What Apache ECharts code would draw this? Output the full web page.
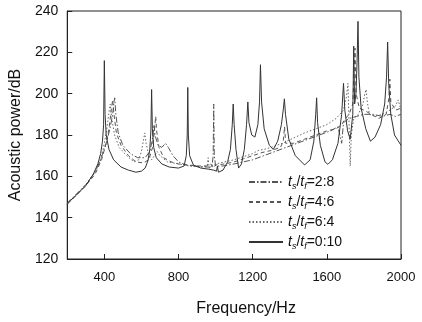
<!DOCTYPE html>
<html><head><meta charset="utf-8">
<script src="https://cdn.jsdelivr.net/npm/echarts@6/dist/echarts.min.js"></script>
<style>html,body{margin:0;padding:0;background:#fff}#c{width:422px;height:322px}</style>
</head><body><div id="c"></div>
<script>
const xTicks = [400, 800, 1200, 1600, 2000];
const yTicks = [120, 140, 160, 180, 200, 220, 240];
const seriesNames = ['2:8', '4:6', '6:4', '0:10'];

const ratio28 = [[200,147],[250,151.5],[300,156],[350,162],[380,168],[410,176],[430,183],[445,190],[452,196],[456,198],[462,190],[475,181],[500,175],[540,171],[580,169],[620,169],[645,172],[660,178],[668,185],[673,180],[690,175],[710,174],[730,176],[745,174],[770,170],[800,167],[840,165.5],[880,165],[940,164.5],[980,164.5],[987,170],[990,195],[993,170],[1000,165],[1040,165],[1100,166],[1150,167],[1200,168],[1260,170],[1320,172],[1380,174],[1440,176],[1500,178],[1560,180],[1620,182],[1660,184],[1680,176],[1690,186],[1720,188],[1760,189],[1800,190],[1850,190],[1900,189],[1940,190],[1970,189],[2000,190]];

const ratio46 = [[200,146.5],[250,151],[300,155.5],[350,161],[385,168],[410,176],[425,183],[437,192],[445,197],[452,190],[465,181],[490,175],[530,170],[570,167],[610,166.5],[640,168],[660,174],[670,182],[677,189],[682,182],[695,174],[720,169],[760,167],[800,166],[850,165.5],[900,165],[950,165],[975,166],[985,164],[1000,165.5],[1050,166],[1100,167],[1150,168.5],[1200,170],[1250,171.5],[1300,172.5],[1350,174],[1365,177],[1372,184],[1378,176],[1420,176],[1480,178],[1540,180],[1600,182],[1650,183],[1680,185],[1700,188],[1720,190],[1740,195],[1752,222],[1758,200],[1775,193],[1800,192],[1840,190],[1880,188],[1920,190],[1935,198],[1940,207],[1945,196],[1970,192],[2000,193]];

const ratio64 = [[200,146.5],[250,151],[300,156],[350,162],[380,168],[400,176],[415,184],[425,191],[432,195],[440,188],[455,180],[480,174],[520,170],[560,167],[585,168],[600,172],[612,178],[618,181],[625,176],[640,170],[655,168],[670,170],[685,172],[700,170],[740,167],[800,166],[860,165],[920,164.5],[955,165],[960,169],[965,164],[1000,166],[1050,167],[1100,168],[1150,169.5],[1200,171],[1230,172.5],[1260,173],[1300,174],[1360,176],[1420,178.5],[1480,181],[1540,183],[1600,185],[1650,188],[1690,192],[1705,198],[1714,205],[1720,185],[1726,165],[1732,180],[1745,188],[1770,190],[1795,195],[1805,200],[1812,202],[1818,196],[1830,190],[1860,189],[1900,190],[1940,192],[1970,194],[1985,197],[2000,192]];

const ratio010 = [[200,147],[250,151],[300,155.5],[340,161],[365,166],[380,171],[390,177],[396,185],[400,216],[404,190],[410,180],[425,173],[450,168],[490,164.5],[530,163],[570,162],[600,162.5],[620,164],[635,167.5],[645,173],[651,182],[655,202],[659,183],[666,174],[680,169],[710,166],[750,164.5],[800,164],[830,165],[842,170],[847,180],[850,203],[853,180],[860,170],[880,165.5],[920,164],[960,163.5],[990,163],[1005,162.5],[1010,165],[1015,162],[1040,163],[1065,167],[1080,173],[1090,185],[1095,195],[1100,185],[1110,173],[1124,164],[1140,166],[1155,173],[1167,185],[1174,196],[1180,186],[1195,180],[1212,179],[1228,185],[1237,196],[1242,214],[1248,196],[1262,183],[1290,175],[1311,173],[1335,177],[1355,185],[1366,193],[1371,197.5],[1377,190],[1395,178],[1430,170],[1480,165.5],[1510,168],[1530,177],[1540,190],[1545,198],[1550,186],[1565,175],[1590,167],[1606,165.8],[1630,168],[1660,176],[1680,190],[1690,205],[1697,192],[1712,182],[1726,178],[1740,190],[1745,223],[1750,195],[1757,200],[1763,215],[1768,235],[1773,208],[1785,193],[1810,183],[1835,177],[1860,179],[1890,185],[1912,195],[1922,208],[1928,225],[1934,204],[1945,190],[1965,180],[2000,175]];

const dataSets = [ratio28, ratio46, ratio64, ratio010];
const dashes = [[6,2,1.5,2], [4,3], [1.5,2], 'solid'];
const colors = ['#555', '#555', '#666', '#333'];

const chart = echarts.init(document.getElementById('c'), null, {renderer: 'canvas'});
const font = '"Liberation Sans", Arial, sans-serif';
chart.setOption({
  animation: false,
  backgroundColor: '#fff',
  textStyle: {fontFamily: font, color: '#111'},
  grid: {left: 66, right: 21, top: 11, bottom: 62, show: true, borderColor: '#222', borderWidth: 1, backgroundColor: 'transparent'},
  legend: {
    orient: 'vertical', left: 243, top: 170, itemWidth: 34, itemHeight: 10, itemGap: 4,
    data: seriesNames,
    itemStyle: {opacity: 0},
    formatter: n => '{i|t}{s|s}{n|/}{i|t}{s|f}{n|=' + n + '}',
    textStyle: {
      fontFamily: font, color: '#111',
      rich: {
        i: {fontStyle: 'italic', fontSize: 14, lineHeight: 18, fontFamily: font, color: '#111'},
        n: {fontSize: 14, lineHeight: 18, fontFamily: font, color: '#111'},
        s: {fontStyle: 'italic', fontSize: 9, lineHeight: 8, verticalAlign: 'bottom', fontFamily: font, color: '#111'}
      }
    }
  },
  xAxis: {
    type: 'value', min: 200, max: 2000,
    name: 'Frequency/Hz', nameLocation: 'middle', nameGap: 42,
    nameTextStyle: {fontSize: 16, color: '#111', fontFamily: font, padding: [0, 0, 0, 24]},
    axisLine: {lineStyle: {color: '#222', width: 1}},
    axisTick: {inside: true, length: 5, customValues: xTicks, lineStyle: {color: '#222'}},
    axisLabel: {customValues: xTicks, fontSize: 13, color: '#111', margin: 12, fontFamily: font,
      formatter: v => String(v)},
    splitLine: {show: false}
  },
  yAxis: {
    type: 'value', min: 120, max: 240, interval: 20,
    name: 'Acoustic power/dB', nameLocation: 'middle', nameGap: 37,
    nameTextStyle: {fontSize: 16, color: '#111', fontFamily: font},
    axisLine: {show: true, lineStyle: {color: '#222', width: 1}},
    axisTick: {show: true, inside: true, length: 5, lineStyle: {color: '#222'}},
    axisLabel: {fontSize: 14, color: '#111', margin: 9, fontFamily: font,
      formatter: v => yTicks.includes(v) ? String(v) : ''},
    splitLine: {show: false}
  },
  series: seriesNames.map((n, k) => ({
    name: n, type: 'line', data: dataSets[k], showSymbol: false, symbol: 'none',
    z: k === 3 ? 5 : 3,
    lineStyle: {color: colors[k], width: 1, type: dashes[k]},
    itemStyle: {color: colors[k]}
  }))
});
</script></body></html>
